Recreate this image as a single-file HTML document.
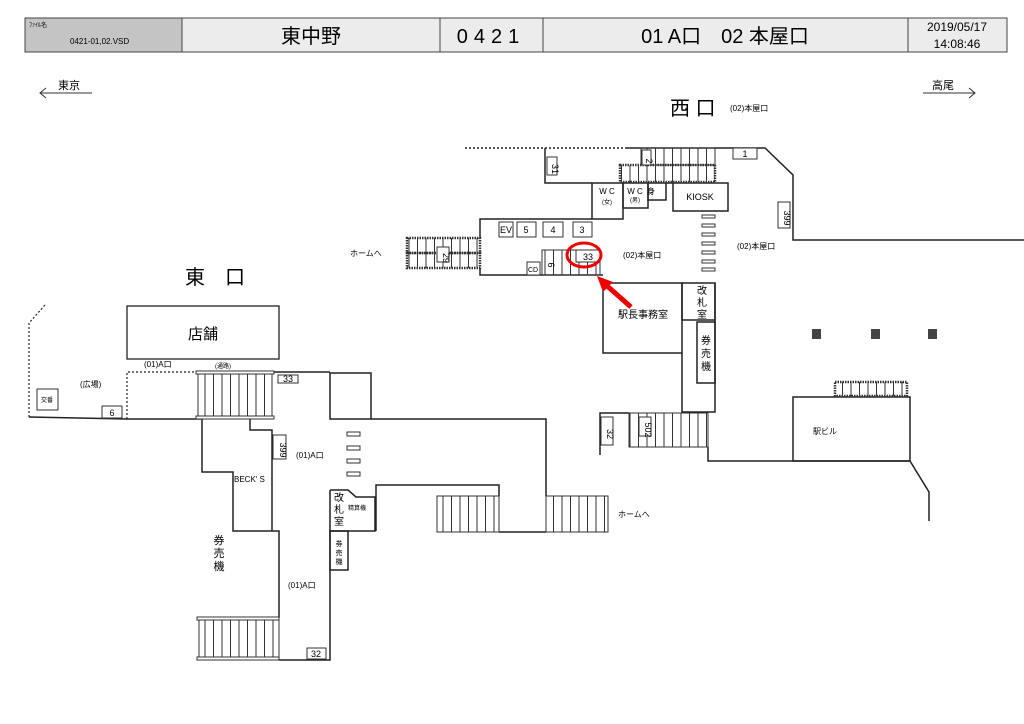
<!DOCTYPE html>
<html><head><meta charset="utf-8"><style>
html,body{margin:0;padding:0;background:#fff;}
svg{display:block;font-family:"Liberation Sans","Noto Sans CJK JP",sans-serif;}
</style></head><body>
<svg width="1024" height="724" viewBox="0 0 1024 724" xmlns="http://www.w3.org/2000/svg">
<defs>
<pattern id="st" width="8.5" height="10" patternUnits="userSpaceOnUse"><line x1="1" y1="0" x2="1" y2="10" stroke="#333" stroke-width="1"/></pattern>
</defs>
<!-- header -->
<rect x="25" y="18" width="157" height="34" fill="#c4c4c4" stroke="#444"/>
<rect x="182" y="18" width="825" height="34" fill="#ececec" stroke="#444"/>
<line x1="440" y1="18" x2="440" y2="52" stroke="#444"/>
<line x1="543" y1="18" x2="543" y2="52" stroke="#444"/>
<line x1="908" y1="18" x2="908" y2="52" stroke="#444"/>
<text x="29" y="27" font-size="6">ﾌｧｲﾙ名</text>
<text x="70" y="44" font-size="8">0421-01,02.VSD</text>
<text x="311" y="43" font-size="20" text-anchor="middle">東中野</text>
<text x="491" y="43" font-size="20" text-anchor="middle" letter-spacing="6">0421</text>
<text x="725" y="43" font-size="20" text-anchor="middle">01 A口　02 本屋口</text>
<text x="957" y="31" font-size="12" text-anchor="middle">2019/05/17</text>
<text x="957" y="48" font-size="12" text-anchor="middle">14:08:46</text>
<!-- direction arrows -->
<g stroke="#333" fill="none">
<path d="M40 93 H92 M46 88 L40 93 L46 98"/>
<path d="M923 93 H975 M969 88 L975 93 L969 98"/>
</g>
<text x="58" y="89" font-size="11">東京</text>
<text x="932" y="89" font-size="11">高尾</text>
<text x="670" y="115" font-size="20">西 口</text>
<text x="730" y="111" font-size="8">(02)本屋口</text>
<text x="185" y="284" font-size="20">東　口</text>

<g stroke="#222" stroke-width="1.5" fill="none">
<line x1="465" y1="148" x2="625" y2="148" stroke-dasharray="2,2"/>
<polyline points="625,148 765,148 793,175 793,240 1024,240"/>
<polyline points="545,148 545,183 592,183"/>
<rect x="592" y="183" width="31" height="36"/>
<rect x="623" y="183" width="25" height="25"/>
<rect x="648" y="183" width="18" height="17"/>
<rect x="673" y="183" width="55" height="28"/>
<line x1="666" y1="183" x2="673" y2="183"/>
<polyline points="592,219 480,219 480,238"/>
<polyline points="480,268 480,275 603,275"/>
<rect x="603" y="283" width="79" height="70"/>
<rect x="682" y="283" width="33" height="37"/>
<rect x="697" y="322" width="18" height="61"/>
<polyline points="715,283 715,412 682,412 682,353"/>
<polyline points="708,447 708,461 910,461 929,492 929,521"/>
<rect x="793" y="397" width="117" height="64"/>
<polyline points="600,455 600,413 629,413"/>
<polyline points="371,419 546,419 546,496"/>
<polyline points="376,531 376,485 499,485 499,496"/>
<line x1="499" y1="532" x2="546" y2="532"/>
<polyline points="29,417 127,419 201,419"/>
<rect x="330" y="373" width="41" height="46"/>
<polyline points="202,419 202,472 233,472 233,531 279,531 279,618"/>
<polyline points="250,419 250,430 272,430 272,531"/>
<polyline points="279,660 330,660 330,490"/>
<path d="M330 490 H348 L356 497 H375 V531 H330"/>
<rect x="330" y="531" width="18" height="39"/>
</g>
<line x1="272" y1="372" x2="330" y2="372" stroke="#222" stroke-width="1.5"/>
<g stroke="#222" stroke-width="1.2" fill="none" stroke-dasharray="2,2">
<polyline points="29,417 29,323 45,305"/>
<polyline points="127,419 127,372 200,372"/>
</g>
<rect x="127" y="306" width="152" height="53" fill="none" stroke="#222" stroke-width="1.3"/>
<text x="203" y="339" font-size="15" text-anchor="middle">店舗</text>

<g stroke="#333" stroke-width="1">
<rect x="641" y="148" width="74" height="17" fill="url(#st)"/>
<rect x="620" y="165" width="95" height="17" fill="url(#st)" stroke-width="2.5" stroke-dasharray="1.5,1"/>
<rect x="407" y="238" width="73" height="15" fill="url(#st)" stroke-width="2.5" stroke-dasharray="1.5,1"/>
<rect x="407" y="253" width="73" height="15" fill="url(#st)" stroke-width="2.5" stroke-dasharray="1.5,1"/>
<rect x="542" y="250" width="58" height="25" fill="url(#st)"/>
<rect x="835" y="382" width="72" height="14" fill="url(#st)" stroke-width="2.5" stroke-dasharray="1.5,1"/>
<rect x="629" y="413" width="79" height="34" fill="url(#st)"/>
<rect x="546" y="496" width="62" height="36" fill="url(#st)"/>
<rect x="437" y="496" width="62" height="36" fill="url(#st)"/>
<rect x="198" y="373" width="74" height="44" fill="url(#st)"/>
<rect x="196" y="371" width="78" height="3" fill="#fff"/>
<rect x="196" y="416" width="78" height="3" fill="#fff"/>
<rect x="199" y="620" width="80" height="38" fill="url(#st)"/>
<rect x="197" y="617" width="82" height="3" fill="#fff"/>
<rect x="197" y="657" width="82" height="3" fill="#fff"/>
</g>

<g stroke="#333" stroke-width="1" fill="#fff">
<rect x="733" y="148" width="24" height="11"/>
<rect x="547" y="157" width="10" height="18"/>
<rect x="642" y="150" width="9" height="15"/>
<rect x="778" y="202" width="12" height="26"/>
<rect x="437" y="247" width="12" height="15"/>
<rect x="499" y="222" width="14" height="15"/>
<rect x="517" y="222" width="19" height="15"/>
<rect x="543" y="222" width="20" height="15"/>
<rect x="573" y="222" width="19" height="15"/>
<rect x="527" y="262" width="13" height="13"/>
<rect x="576" y="250" width="24" height="12"/>
<rect x="601" y="417" width="12" height="28"/>
<rect x="639" y="417" width="12" height="19"/>
<rect x="278" y="375" width="20" height="8"/>
<rect x="37" y="389" width="21" height="21"/>
<rect x="102" y="406" width="20" height="12"/>
<rect x="273" y="435" width="13" height="24"/>
<rect x="307" y="648" width="19" height="11"/>
</g>
<g stroke="#333" fill="#fff">
<rect x="702" y="215" width="13" height="3"/><rect x="702" y="224" width="13" height="3"/><rect x="702" y="233" width="13" height="3"/><rect x="702" y="242" width="13" height="3"/><rect x="702" y="251" width="13" height="3"/><rect x="702" y="260" width="13" height="3"/><rect x="702" y="268" width="13" height="3"/>
<rect x="347" y="432" width="13" height="4"/><rect x="347" y="446" width="13" height="4"/><rect x="347" y="459" width="13" height="4"/><rect x="347" y="472" width="13" height="4"/>
</g>
<g fill="#444"><rect x="812" y="329" width="9" height="10"/><rect x="871" y="329" width="9" height="10"/><rect x="928" y="329" width="9" height="10"/></g>

<g font-size="9" text-anchor="middle">
<text x="745" y="157">1</text>
<text x="555" y="166" transform="rotate(90 552 166)">31</text>
<text x="649" y="158" transform="rotate(90 646 158)">2</text>
<text x="787" y="215" transform="rotate(90 784 215)">399</text>
<text x="446" y="255" transform="rotate(90 443 255)">29</text>
<text x="506" y="233">EV</text><text x="526" y="233">5</text><text x="553" y="233">4</text><text x="582" y="233">3</text>
<text x="533" y="272" font-size="7">CD</text>
<text x="588" y="260">33</text>
<text x="551" y="262" transform="rotate(90 548 262)">6</text>
<text x="610" y="431" transform="rotate(90 607 431)">32</text>
<text x="648" y="427" transform="rotate(90 645 427)">502</text>
<text x="288" y="382">33</text>
<text x="112" y="416">6</text>
<text x="283" y="447" transform="rotate(90 280 447)">399</text>
<text x="316" y="657">32</text>
</g>
<g font-size="8" text-anchor="middle">
<text x="607" y="194">W C</text><text x="607" y="204" font-size="6">(女)</text>
<text x="635" y="194">W C</text><text x="635" y="202" font-size="6">(男)</text>
<text x="651" y="194">身</text>
<text x="700" y="200" font-size="9">KIOSK</text>
<text x="47" y="402" font-size="6">交番</text>
</g>
<g font-size="8">
<text x="350" y="256">ホームへ</text>
<text x="623" y="258">(02)本屋口</text>
<text x="737" y="249">(02)本屋口</text>
<text x="618" y="318" font-size="10">駅長事務室</text>
<text x="813" y="434">駅ビル</text>
<text x="618" y="517">ホームへ</text>
<text x="144" y="367">(01)A口</text>
<text x="215" y="368" font-size="6">(通路)</text>
<text x="80" y="387">(広場)</text>
<text x="234" y="482">BECK' S</text>
<text x="296" y="458">(01)A口</text>
<text x="288" y="588">(01)A口</text>
<text x="348" y="510" font-size="6">精算機</text>
</g>
<g font-size="10" text-anchor="middle">
<text x="702" y="294">改</text><text x="702" y="306">札</text><text x="702" y="318">室</text>
<text x="706" y="344">券</text><text x="706" y="357">売</text><text x="706" y="370">機</text>
<text x="339" y="501">改</text><text x="339" y="513">札</text><text x="339" y="525">室</text>
<text x="219" y="544" font-size="11">券</text><text x="219" y="557" font-size="11">売</text><text x="219" y="570" font-size="11">機</text>
<text x="339" y="546" font-size="7">券</text><text x="339" y="555" font-size="7">売</text><text x="339" y="564" font-size="7">機</text>
</g>
<ellipse cx="584" cy="255" rx="17" ry="12" fill="none" stroke="#e00" stroke-width="3"/>
<line x1="631" y1="307" x2="606" y2="285" stroke="#e00" stroke-width="5"/>
<polygon points="597,276 613,282 603,292" fill="#e00"/>
</svg>
</body></html>
